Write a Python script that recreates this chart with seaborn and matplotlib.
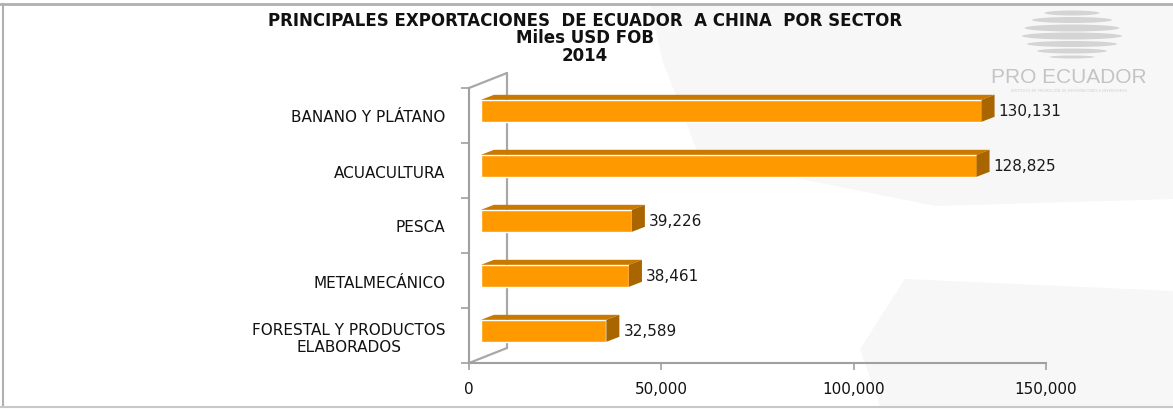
import numpy as np
import pandas as pd
import matplotlib
matplotlib.use("Agg")
import matplotlib.pyplot as plt
import matplotlib.transforms as mtransforms
from matplotlib.patches import Polygon, Ellipse
from matplotlib.ticker import FuncFormatter
import seaborn as sns

# datos (miles USD FOB, 2014)
sectores = ["BANANO Y PLÁTANO", "ACUACULTURA", "PESCA", "METALMECÁNICO",
            "FORESTAL Y PRODUCTOS\nELABORADOS"]
valores = [130131, 128825, 39226, 38461, 32589]
xticks = [0, 50000, 100000, 150000]

titulo = "PRINCIPALES EXPORTACIONES  DE ECUADOR  A CHINA  POR SECTOR\nMiles USD FOB\n2014"

sns.set_style("white")
plt.rcParams["font.family"] = ["DejaVu Sans"]

W, H = 1173, 410
fig = plt.figure(figsize=(W / 100, H / 100), dpi=100)
fig.patch.set_facecolor("white")

# fondo tipo marca de agua
def fpx(pts):
    return [(x / W, 1 - y / H) for x, y in pts]

fig.patches.append(Polygon(fpx([(650, 6), (1173, 6), (1173, 200), (935, 207), (700, 160), (662, 60)]),
                           closed=True, transform=fig.transFigure, facecolor="#f7f7f7",
                           edgecolor="none", zorder=-2))
fig.patches.append(Polygon(fpx([(905, 280), (1173, 292), (1173, 407), (880, 407), (860, 350)]),
                           closed=True, transform=fig.transFigure, facecolor="#f7f7f7",
                           edgecolor="none", zorder=-2))

# logo
for yy, ww, hh in [(14, 55, 5), (21, 80, 6), (29, 95, 7), (37, 100, 7), (45, 90, 6), (52, 70, 5), (58, 45, 3)]:
    fig.patches.append(Ellipse((1072 / W, 1 - yy / H), ww / W, hh / H, transform=fig.transFigure,
                               facecolor="#d4d4d4", edgecolor="none", zorder=-1))
fig.text(1069 / W, 1 - 78 / H, "PRO ECUADOR", ha="center", va="center", fontsize=15,
         color="#c4c4c4", family=["Liberation Sans Narrow", "Liberation Sans", "DejaVu Sans"])
fig.text(1069 / W, 1 - 91 / H, "INSTITUTO DE PROMOCIÓN DE EXPORTACIONES E INVERSIONES",
         ha="center", va="center", fontsize=2.6, color="#d0d0d0")

# marco
fig.add_artist(plt.Line2D([0, 1], [1 - 5 / H, 1 - 5 / H], color="#b0b0b0", lw=2, transform=fig.transFigure))
fig.add_artist(plt.Line2D([3 / W, 3 / W], [1 - 5 / H, 1 - 408 / H], color="#b0b0b0", lw=1.5, transform=fig.transFigure))
fig.add_artist(plt.Line2D([0, 1], [1 - 408 / H, 1 - 408 / H], color="#c8c8c8", lw=1.5, transform=fig.transFigure))

fig.text(585 / W, 1 - 12 / H, titulo, ha="center", va="top", fontsize=12,
         fontweight="bold", color="#111111", linespacing=0.95)

ax = fig.add_axes([469 / W, 46 / H, 577 / W, 275 / H])
ax.set_zorder(2)
ax.set_facecolor("none")
df = pd.DataFrame({"sector": sectores, "valor": valores})
sns.barplot(data=df, x="valor", y="sector", orient="h", color="#FF9900", width=0.4,
            saturation=1, ax=ax, zorder=3)
ax.set_xlim(0, 150000)
ax.set_ylim(4.5, -0.5)

px_x = 150000 / 577
px_y = 5 / 275

# pared del fondo (efecto 3D)
wx, wy = 38 * px_x, 15 * px_y
wall = dict(color="#a8a8a8", lw=1.6, clip_on=False, zorder=1)
ax.plot([wx, wx], [-0.5 - wy, 4.5 - wy], **wall)
ax.plot([0, wx], [-0.5, -0.5 - wy], **wall)
ax.plot([0, wx], [4.5, 4.5 - wy], **wall)

# barras 3D
off = mtransforms.ScaledTranslation(0.12, 0.047, fig.dpi_scale_trans)
dx, dy = 13 * px_x, 5 * px_y
for p, v in zip(ax.patches, valores):
    x0, y0, w, h = p.get_x(), p.get_y(), p.get_width(), p.get_height()
    tr = ax.transData + off
    p.set_transform(tr)
    p.set_clip_on(False)
    top = Polygon([(x0, y0), (x0 + w, y0), (x0 + w + dx, y0 - dy), (x0 + dx, y0 - dy)],
                  closed=True, facecolor="#C97800", edgecolor="none", transform=tr,
                  clip_on=False, zorder=3)
    side = Polygon([(x0 + w, y0), (x0 + w + dx, y0 - dy), (x0 + w + dx, y0 + h - dy), (x0 + w, y0 + h)],
                   closed=True, facecolor="#A86500", edgecolor="none", transform=tr,
                   clip_on=False, zorder=3)
    ax.add_patch(top)
    ax.add_patch(side)
    ax.annotate(f"{v:,}", xy=(w, y0 + h / 2), xytext=(21, 3.4), textcoords="offset points",
                ha="left", va="center", fontsize=11, color="#1a1a1a")

for s in ["top", "right"]:
    ax.spines[s].set_visible(False)
for s in ["left", "bottom"]:
    ax.spines[s].set_color("#a0a0a0")
    ax.spines[s].set_linewidth(1.5)

ax.set_xticks(xticks)
ax.xaxis.set_major_formatter(FuncFormatter(lambda v, _: f"{int(v):,}"))
ax.tick_params(axis="x", length=5, width=1.2, color="#a0a0a0", pad=8, labelsize=11,
               labelcolor="#111111", bottom=True)
ax.set_yticks(np.arange(-0.5, 5, 1), minor=True)
ax.tick_params(axis="y", which="major", length=0, pad=17, labelsize=11, labelcolor="#111111")
ax.tick_params(axis="y", which="minor", length=6, width=1.2, color="#a0a0a0", left=True)
for t in ax.get_yticklabels():
    t.set_multialignment("center")
ax.set_xlabel("")
ax.set_ylabel("")

fig.savefig("out.png", dpi=100)
